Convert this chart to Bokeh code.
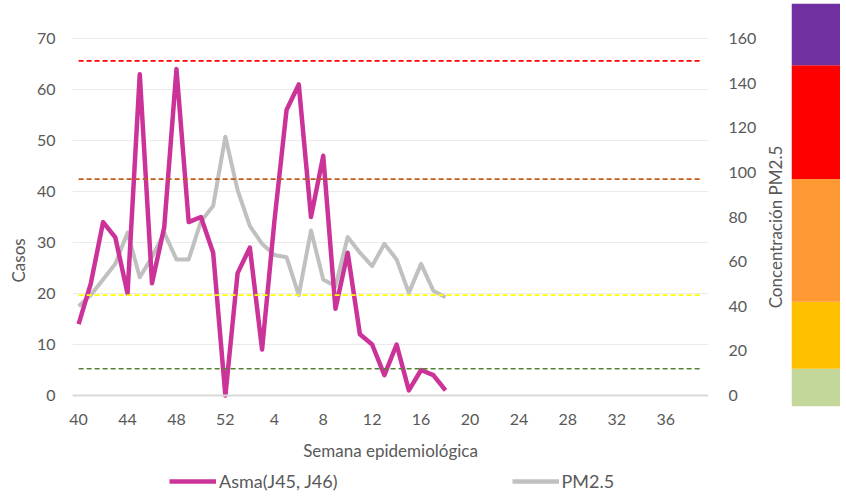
import math
from bokeh.plotting import figure
from bokeh.models import (Range1d, LinearAxis, Legend, LegendItem, Title, Label,
                          Span, FixedTicker, ColumnDataSource)
from bokeh.layouts import row, column
from bokeh.embed import file_html
from bokeh.resources import INLINE

# ---------------- data ----------------
weeks = list(range(40, 53)) + list(range(1, 40))
asma = [14, 22, 34, 31, 20, 63, 22, 33, 64, 34, 35, 28, 0, 24, 29, 9, 34, 56,
        61, 35, 47, 17, 28, 12, 10, 4, 10, 1, 5, 4, 1]
pm25 = [40, 45, 52, 59, 73, 53, 62, 73, 61, 61, 78, 85, 116, 92, 76, 68, 63,
        62, 45, 74, 52, 49, 71, 64, 58, 68, 61, 46, 59, 47, 44]
thresholds = [12, 45, 97, 150]
threshold_colors = ["#548235", "#ffff00", "#c55a11", "#ff0000"]
band_edges = [-4.93, 12, 42, 97, 148, 175.7]
band_colors = ["#c4d79b", "#ffc000", "#ff9933", "#ff0000", "#7030a0"]
left_ticks = [0, 10, 20, 30, 40, 50, 60, 70]
right_ticks = [0, 20, 40, 60, 80, 100, 120, 140, 160]
x_tick_idx = list(range(0, 52, 4))
series_names = ["Asma(J45, J46)", "PM2.5"]
series_colors = ["#cc3399", "#c0c0c0"]

FONT = "Lato"
TXT = "#595959"

# vertical ranges: left (cases) and right (PM2.5) share the same zero
ratio = right_ticks[-1] / left_ticks[-1]
pm_range = (band_edges[0], band_edges[-1])
cases_range = (pm_range[0] / ratio, pm_range[1] / ratio)

idx_all = list(range(len(weeks)))
src_a = ColumnDataSource(dict(x=idx_all[:len(asma)], y=asma))
src_p = ColumnDataSource(dict(x=idx_all[:len(pm25)], y=pm25))

H = 466
p = figure(width=766, height=H, output_backend="svg", toolbar_location=None,
           x_range=Range1d(-0.5, len(weeks) - 0.5), y_range=Range1d(*cases_range),
           min_border_left=72, min_border_right=58, min_border_top=3,
           min_border_bottom=60)
p.extra_y_ranges = {"pm": Range1d(*pm_range)}
p.outline_line_color = None
p.background_fill_color = "white"
p.border_fill_color = "white"
p.xgrid.grid_line_color = None
p.ygrid.grid_line_color = "#ebebeb"
p.ygrid.grid_line_width = 1.2
p.ygrid.ticker = FixedTicker(ticks=left_ticks[1:])
p.add_layout(Span(location=0, dimension="width", line_color="#d9d9d9",
                  line_width=2))

# left axis
ya = p.yaxis[0]
ya.ticker = FixedTicker(ticks=left_ticks)
ya.axis_line_color = None
ya.major_tick_line_color = None
ya.minor_tick_line_color = None
ya.major_tick_out = 0
ya.major_label_text_font = FONT
ya.major_label_text_font_size = "16px"
ya.major_label_text_color = TXT
ya.major_label_standoff = 17

# left title "Casos"
p.add_layout(Title(text="Casos", align="left", offset=124, standoff=9,
                   text_font=FONT, text_font_size="17px",
                   text_font_style="normal", text_color=TXT), "left")

# right axis
ra = LinearAxis(y_range_name="pm", ticker=FixedTicker(ticks=right_ticks))
ra.axis_line_color = None
ra.major_tick_line_color = None
ra.minor_tick_line_color = None
ra.major_tick_out = 0
ra.major_label_text_font = FONT
ra.major_label_text_font_size = "16px"
ra.major_label_text_color = TXT
ra.major_label_standoff = 20
p.add_layout(ra, "right")

# bottom axis
xa = p.xaxis[0]
xa.ticker = FixedTicker(ticks=x_tick_idx)
xa.major_label_overrides = {i: str(weeks[i]) for i in x_tick_idx}
xa.axis_line_color = None
xa.major_tick_line_color = None
xa.minor_tick_line_color = None
xa.major_tick_out = 0
xa.major_label_text_font = FONT
xa.major_label_text_font_size = "16px"
xa.major_label_text_color = TXT
xa.major_label_standoff = 7
xa.axis_label = "Semana epidemiológica"
xa.axis_label_text_font = FONT
xa.axis_label_text_font_size = "17px"
xa.axis_label_text_font_style = "normal"
xa.axis_label_text_color = TXT
xa.axis_label_standoff = 12

# series
p.line("x", "y", source=src_p, y_range_name="pm", line_color=series_colors[1],
       line_width=4, line_join="round")
p.line("x", "y", source=src_a, line_color=series_colors[0], line_width=4.5,
       line_join="round")

# threshold lines
for t, c in zip(thresholds, threshold_colors):
    p.line([0, len(weeks) - 1], [t, t], y_range_name="pm", line_color=c,
           line_width=1.6, line_dash="5 3")

# ---- right axis title strip ----
tl = figure(width=22, height=H, output_backend="svg", toolbar_location=None,
            x_range=Range1d(0, 1), y_range=Range1d(*pm_range),
            min_border=0, min_border_top=3, min_border_bottom=60)
tl.axis.visible = False
tl.grid.grid_line_color = None
tl.outline_line_color = None
tl.add_layout(Label(x=0.4, y=(right_ticks[0] + right_ticks[-1]) / 2 - 4.5,
                    text="Concentración PM2.5", angle=math.pi / 2,
                    text_align="center", text_baseline="middle",
                    text_font=FONT, text_font_size="17px", text_color=TXT))

# ---- colour scale strip ----
cb = figure(width=52, height=H, output_backend="svg", toolbar_location=None,
            x_range=Range1d(0, 1), y_range=Range1d(*pm_range),
            min_border=0, min_border_left=3, min_border_top=3,
            min_border_bottom=60)
cb.axis.visible = False
cb.grid.grid_line_color = None
cb.outline_line_color = None
cb.quad(left=0, right=1, bottom=band_edges[:-1], top=band_edges[1:],
        fill_color=band_colors, line_color=None)

# ---- legend strip ----
lg = figure(width=766, height=32, output_backend="svg", toolbar_location=None,
            x_range=Range1d(-3, -2), y_range=Range1d(0, 1), min_border=0)
lg.axis.visible = False
lg.grid.grid_line_color = None
lg.outline_line_color = None
items = []
for name, col, vals in zip(series_names, series_colors, [asma, pm25]):
    r = lg.line(x=idx_all[:len(vals)], y=vals, line_color=col, line_width=4.5)
    items.append(LegendItem(label=name, renderers=[r]))
legend = Legend(items=items, orientation="horizontal", location=(169, 6))
legend.label_text_font = FONT
legend.label_text_font_size = "18px"
legend.label_text_color = TXT
legend.glyph_width = 47
legend.glyph_height = 20
legend.label_standoff = 3
legend.spacing = 174
legend.border_line_color = None
legend.background_fill_alpha = 0
legend.margin = 0
legend.padding = 4
lg.add_layout(legend)

layout = column(row(p, tl, cb), lg, spacing=0)
open("out.html", "w").write(file_html(layout, INLINE))
